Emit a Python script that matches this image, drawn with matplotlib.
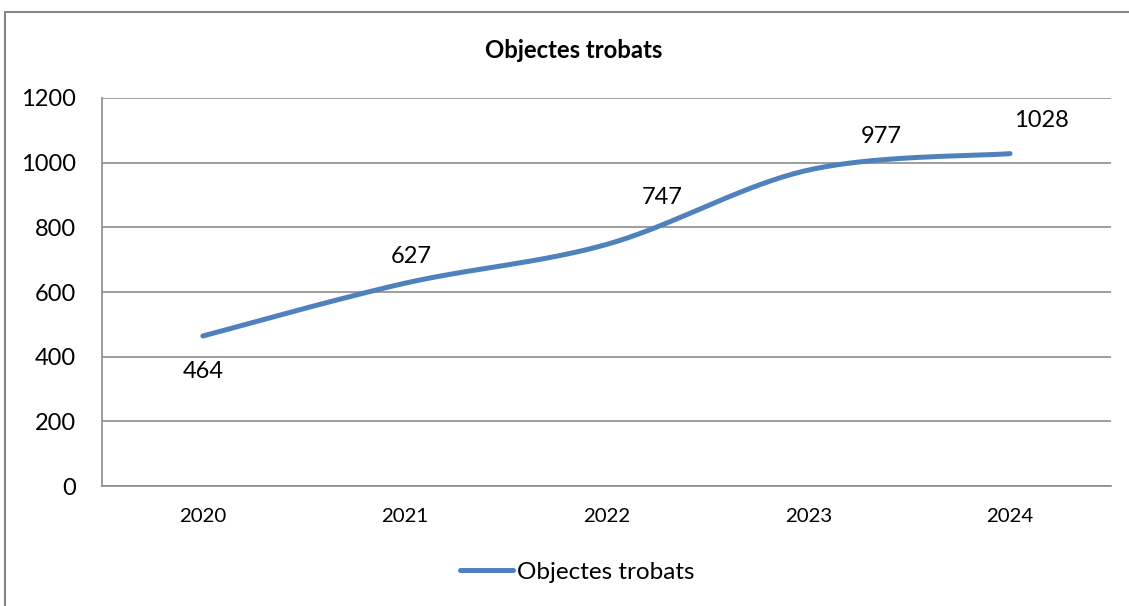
import numpy as np
import matplotlib
matplotlib.use("Agg")
import matplotlib.pyplot as plt
from matplotlib.patches import Rectangle

# data
years = ["2020", "2021", "2022", "2023", "2024"]
found = [464, 627, 747, 977, 1028]
# label offsets (pixels) relative to each point, as Excel placed them
label_dx = [0, 7, 56, 73, 31]
label_dy = [-36, 27, 47, 34, 33]

plt.rcParams['font.family'] = ['Lato', 'DejaVu Sans']

line_col = '#4F81BD'
grid_col = '#8C8C8C'


def smooth(x, y, n=40):
    # Catmull-Rom style bezier like Excel's "smoothed line"
    x = np.asarray(x, float)
    y = np.asarray(y, float)
    px = np.concatenate([[x[0]], x, [x[-1]]])
    py = np.concatenate([[y[0]], y, [y[-1]]])
    xs, ys = [], []
    t = np.linspace(0, 1, n)
    for i in range(1, len(px) - 2):
        p0 = np.array([px[i], py[i]])
        p3 = np.array([px[i + 1], py[i + 1]])
        p1 = p0 + (np.array([px[i + 1], py[i + 1]]) - np.array([px[i - 1], py[i - 1]])) / 6
        p2 = p3 - (np.array([px[i + 2], py[i + 2]]) - np.array([px[i], py[i]])) / 6
        b = ((1 - t) ** 3)[:, None] * p0 + (3 * (1 - t) ** 2 * t)[:, None] * p1 \
            + (3 * (1 - t) * t ** 2)[:, None] * p2 + (t ** 3)[:, None] * p3
        xs.extend(b[:, 0])
        ys.extend(b[:, 1])
    return np.array(xs), np.array(ys)


fig = plt.figure(figsize=(11.29, 6.06), dpi=100)
ax = fig.add_axes([0.0903, 0.198, 0.8937, 0.6403])

# outer chart border (runs off the right/bottom edge like the screenshot)
fig.patches.append(Rectangle((5 / 1129, -0.05), 1.2, (606 - 12) / 606 + 0.05,
                             transform=fig.transFigure, fill=False,
                             edgecolor='#868686', linewidth=1.5))

xpos = np.arange(len(years))
sx, sy = smooth(xpos, found)
ax.plot(sx, sy, color=line_col, linewidth=3.6, solid_capstyle='round',
        label='Objectes trobats', zorder=3)

for i, v in enumerate(found):
    ax.annotate(str(v), (xpos[i], v),
                xytext=(label_dx[i] * 0.72, label_dy[i] * 0.72),
                textcoords='offset points', ha='center', va='center',
                fontsize=17, color='black')

ax.set_xlim(-0.5, len(years) - 0.5)
ax.set_ylim(0, 1200)
ax.set_yticks(range(0, 1201, 200))
ax.set_xticks(xpos)
ax.set_xticklabels(years)
ax.tick_params(axis='y', length=0, labelsize=17, pad=19)
ax.tick_params(axis='x', length=0, labelsize=14.7, pad=16)
ax.grid(axis='y', color=grid_col, linewidth=1.2)
ax.set_axisbelow(True)
for s in ['top', 'right']:
    ax.spines[s].set_visible(False)
for s in ['left', 'bottom']:
    ax.spines[s].set_color(grid_col)
    ax.spines[s].set_linewidth(1.2)

fig.text(0.508, 0.917, 'Objectes trobats', ha='center', va='center',
         fontsize=17.2, fontweight='bold')

fig.legend(loc='center', bbox_to_anchor=(0.511, 0.056), frameon=False,
           fontsize=17.5, handlelength=2.2, handletextpad=0.15)

fig.savefig('out.png', dpi=100)
